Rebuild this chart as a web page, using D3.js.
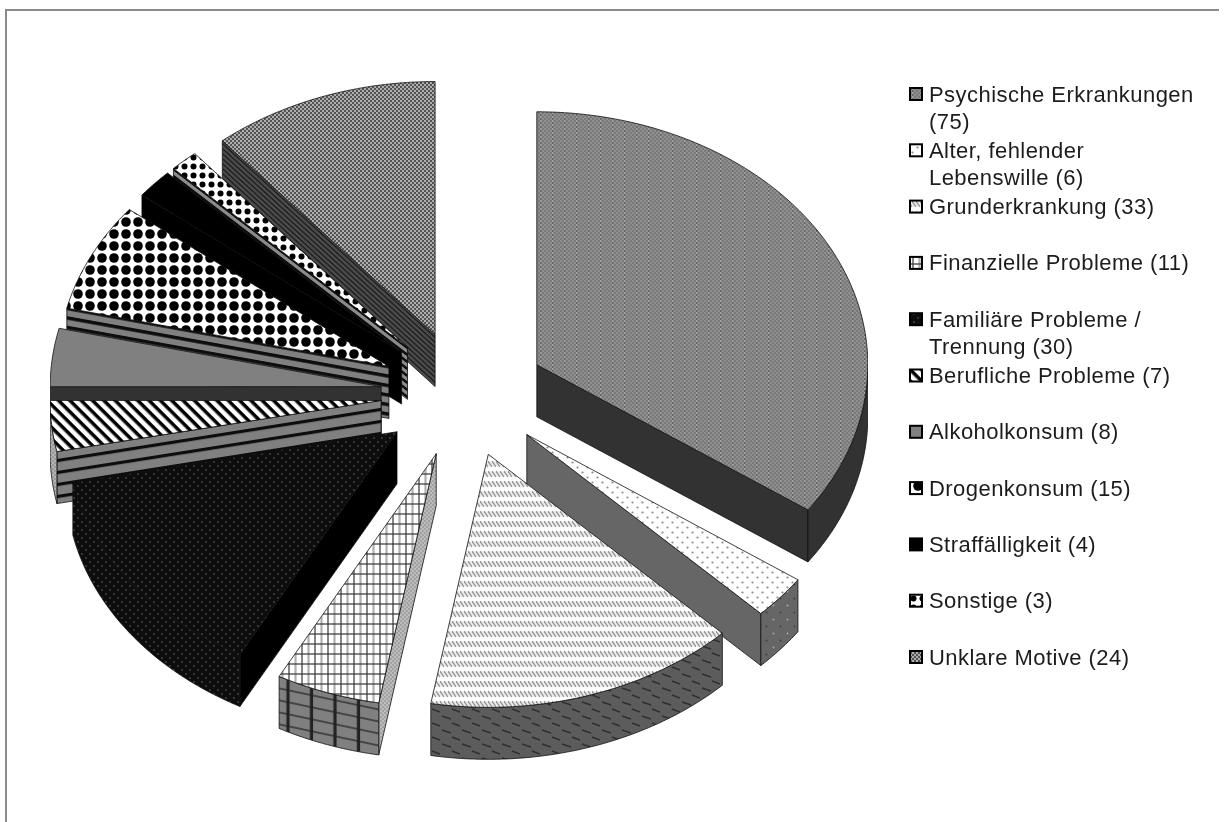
<!DOCTYPE html>
<html>
<head>
<meta charset="utf-8">
<script src="https://cdn.jsdelivr.net/npm/d3@7"></script>
<style>
    html, body { margin: 0; padding: 0; background: #fff; }
    svg { display: block; }
    text { font-family: "Liberation Sans", Arial, sans-serif; font-size: 22px; letter-spacing: 0.45px; fill: #1c1c1c; }
</style>
</head>
<body>
<div id="chart"></div>
<script>
// "|" marks where the legend entry wraps
const categories = [
    "Psychische Erkrankungen|", "Alter, fehlender|Lebenswille", "Grunderkrankung",
    "Finanzielle Probleme", "Familiäre Probleme /|Trennung", "Berufliche Probleme",
    "Alkoholkonsum", "Drogenkonsum", "Straffälligkeit", "Sonstige", "Unklare Motive"
];
const values = [75, 6, 33, 11, 30, 7, 8, 15, 4, 3, 24];

const width = 1224, height = 822;
const explode = 0.25;
const depth = 52;

const svg = d3.select("#chart").append("svg")
    .attr("width", width)
    .attr("height", height);

const defs = svg.append("defs");
defs.append("filter").attr("id", "soft")
    .attr("x", 0).attr("y", 0).attr("width", 1).attr("height", 1)
    .append("feGaussianBlur").attr("stdDeviation", 0.6);
defs.append("filter").attr("id", "softText")
    .attr("x", -0.05).attr("y", -0.05).attr("width", 1.1).attr("height", 1.1)
    .append("feGaussianBlur").attr("stdDeviation", 0.4);

// Unit circle -> screen, the pie is a flattened ellipse
const xScale = d3.scaleLinear().domain([-1, 1]).range([463.4 - 331, 463.4 + 331]);
const yScale = d3.scaleLinear().domain([-1, 1]).range([394 - 253, 394 + 253]);

const pie = d3.pie().sort(null).startAngle(0).endAngle(2 * Math.PI);
const slices = pie(values);

function pattern(id, w, h, bg, transform) {
    const p = defs.append("pattern")
        .attr("id", id)
        .attr("patternUnits", "userSpaceOnUse")
        .attr("width", w)
        .attr("height", h);
    if (transform) p.attr("patternTransform", transform);
    if (bg) p.append("rect").attr("width", w).attr("height", h).attr("fill", bg);
    return p;
}
function dot(p, x, y, r, fill) {
    p.append("circle").attr("cx", x).attr("cy", y).attr("r", r).attr("fill", fill);
}
function box(p, x, y, w, h, fill) {
    p.append("rect").attr("x", x).attr("y", y).attr("width", w).attr("height", h).attr("fill", fill);
}
function stroke(p, x1, y1, x2, y2, color, sw) {
    p.append("line").attr("x1", x1).attr("y1", y1).attr("x2", x2).attr("y2", y2)
        .attr("stroke", color).attr("stroke-width", sw);
}
function stripes(id, period, band, bg, color, slope) {
    const p = pattern(id, 20, period, bg, "skewY(" + (Math.atan(slope) * 180 / Math.PI) + ")");
    box(p, 0, 0, 20, band, color);
}

// Top faces
let p = pattern("top0", 12, 4, "#7a7a7a");
[0, 4, 8].forEach(x => { box(p, x, 0, 2, 2, "#8f8f8f"); box(p, x + 2, 2, 2, 2, "#8f8f8f"); });
box(p, 0, 0, 1, 2, "#a5a5a5"); box(p, 0, 2, 1, 2, "#626262");

p = pattern("top1", 10, 10, "#fff");
dot(p, 2.5, 2.5, 1.1, "#8c8c8c"); dot(p, 7.5, 7.5, 1.1, "#8c8c8c");

p = pattern("top2", 4, 10, "#fff");
box(p, 0, 1, 4, 6, "#ececec");
stroke(p, 0, 1, 4, 7, "#969696", 1.3);

p = pattern("top3", 13, 10, "#fff");
stroke(p, 3, 0, 3, 10, "#333", 1.2);
stroke(p, 9.5, 0, 9.5, 10, "#b0b0b0", 2.2);
stroke(p, 0, 4, 13, 4, "#333", 1.2);

p = pattern("top4", 8, 8, "#0c0c0c");
dot(p, 2, 2, 0.7, "#808080"); dot(p, 6, 6, 0.7, "#808080");

p = pattern("top5", 8, 8, "#fff", "rotate(45)");
box(p, 0, 0, 8, 3.5, "#000");

pattern("top6", 4, 4, "#808080");

p = pattern("top7", 12, 12, "#fff");
dot(p, 6, 6, 4.8, "#000");

pattern("top8", 4, 4, "#000");

p = pattern("top9", 9, 9, "#fff");
dot(p, 4.5, 4.5, 3, "#000");

p = pattern("top10", 4, 4, "#525252");
box(p, 0, 0, 2, 2, "#aeaeae"); box(p, 2, 2, 2, 2, "#aeaeae");

// Outer rim walls
pattern("rim0", 4, 4, "#323232");

p = pattern("rim2", 20, 14, "#5c5c5c");
stroke(p, 2, 2, 11, 5, "#2e2e2e", 1.4);
stroke(p, 12, 9, 20, 12, "#2e2e2e", 1.4);

p = pattern("rim3", 23.5, 12, "#808080", "skewY(12)");
stroke(p, 0, 5, 23.5, 5, "#2b2b2b", 1.4);
stroke(p, 6, 0, 6, 12, "#222", 3.2);

p = pattern("rim5", 4, 4, "#b4b4b4");
dot(p, 1, 1, 0.8, "#777"); dot(p, 3, 3, 0.8, "#777");

const rimFill = ["rim0", "rim1", "rim2", "rim3", "top4", "rim5", "rim6", "rim7", "rim8", "rim9", "rim10"];

p = pattern("rim1", 14, 14, "#666");
dot(p, 3.5, 3.5, 1, "#a5a5a5"); dot(p, 10.5, 10.5, 1, "#3f3f3f");
["rim6", "rim7", "rim8", "rim9", "rim10"].forEach(id => pattern(id, 4, 4, "#555"));

// Cut walls, the stripes follow the cut edge so they need its slope
function point(d, angle, r) {
    const mid = (d.startAngle + d.endAngle) / 2;
    return [
        xScale(explode * Math.sin(mid) + r * Math.sin(angle)),
        yScale(-explode * Math.cos(mid) - r * Math.cos(angle))
    ];
}
function edgeSlope(d, angle) {
    const a = point(d, angle, 0), b = point(d, angle, 1);
    return (b[1] - a[1]) / (b[0] - a[0]);
}

pattern("cut0", 4, 4, "#323232");
pattern("cut1", 4, 4, "#666");
p = pattern("cut3", 4, 4, "#bcbcbc");
dot(p, 1, 1, 0.8, "#808080"); dot(p, 3, 3, 0.8, "#808080");
pattern("cut4", 4, 4, "#000");
stripes("cut5", 12, 3.2, "#808080", "#0a0a0a", edgeSlope(slices[5], slices[5].startAngle));
pattern("cut6", 4, 4, "#333");
stripes("cut7", 9.5, 3.5, "#808080", "#0a0a0a", edgeSlope(slices[7], slices[7].startAngle));
pattern("cut8", 4, 4, "#000");
stripes("cut9", 7, 3, "#8a8a8a", "#0a0a0a", edgeSlope(slices[9], slices[9].startAngle));
stripes("cut10", 5, 2, "#4c4c4c", "#222", edgeSlope(slices[10], slices[10].startAngle));

const line = d3.line();

function arcPoints(d, a0, a1, dy) {
    const n = Math.max(2, Math.ceil((a1 - a0) * 60));
    return d3.range(n + 1).map(i => {
        const q = point(d, a0 + (a1 - a0) * i / n, 1);
        return [q[0], q[1] + dy];
    });
}

const pieGroup = svg.append("g").attr("filter", "url(#soft)");

// Back to front so nearer slices cover the walls behind them
const order = slices.slice().sort((a, b) => point(a, 0, 0)[1] - point(b, 0, 0)[1]);

order.forEach(d => {
    const i = d.index;
    const g = pieGroup.append("g");
    const apex = point(d, 0, 0);

    // Cut faces that look towards the viewer
    const cuts = [];
    if (Math.sin(d.startAngle) < -1e-6) cuts.push(d.startAngle);
    if (Math.sin(d.endAngle) > 1e-6) cuts.push(d.endAngle);
    cuts.forEach(a => {
        const r = point(d, a, 1);
        g.append("path")
            .attr("d", line([apex, r, [r[0], r[1] + depth], [apex[0], apex[1] + depth]]) + "Z")
            .attr("fill", "url(#cut" + i + ")")
            .attr("stroke", "#111").attr("stroke-width", 0.8);
    });

    // Outer wall, only the near half of the rim shows
    const a0 = Math.max(d.startAngle, Math.PI / 2), a1 = Math.min(d.endAngle, 3 * Math.PI / 2);
    if (a1 > a0) {
        const pts = arcPoints(d, a0, a1, 0).concat(arcPoints(d, a0, a1, depth).reverse());
        g.append("path")
            .attr("d", line(pts) + "Z")
            .attr("fill", "url(#" + rimFill[i] + ")")
            .attr("stroke", "#111").attr("stroke-width", 0.8);
    }

    // Top face
    g.append("path")
        .attr("d", line([apex].concat(arcPoints(d, d.startAngle, d.endAngle, 0))) + "Z")
        .attr("fill", "url(#top" + i + ")")
        .attr("stroke", "#111").attr("stroke-width", 0.8);
});

// Legend
const legendY = d3.scaleLinear().domain([0, categories.length - 1]).range([94, 657]);
const legend = svg.append("g").attr("filter", "url(#softText)");

categories.forEach((name, i) => {
    const y = legendY(i);
    legend.append("rect")
        .attr("x", 910).attr("y", y - 6)
        .attr("width", 12).attr("height", 12)
        .attr("fill", "url(#top" + i + ")")
        .attr("stroke", "#000").attr("stroke-width", 2);
    const lines = (name + " (" + values[i] + ")").split("|").map(s => s.trim());
    lines.forEach((s, j) => {
        legend.append("text")
            .attr("x", 929)
            .attr("y", y + 7.5 + j * 27)
            .text(s);
    });
});

// Frame, only top and left are there
svg.append("path")
    .attr("d", line([[6, height], [6, 10], [1219, 10]]))
    .attr("fill", "none")
    .attr("stroke", "#8a8a8a")
    .attr("stroke-width", 2);
</script>
</body>
</html>
